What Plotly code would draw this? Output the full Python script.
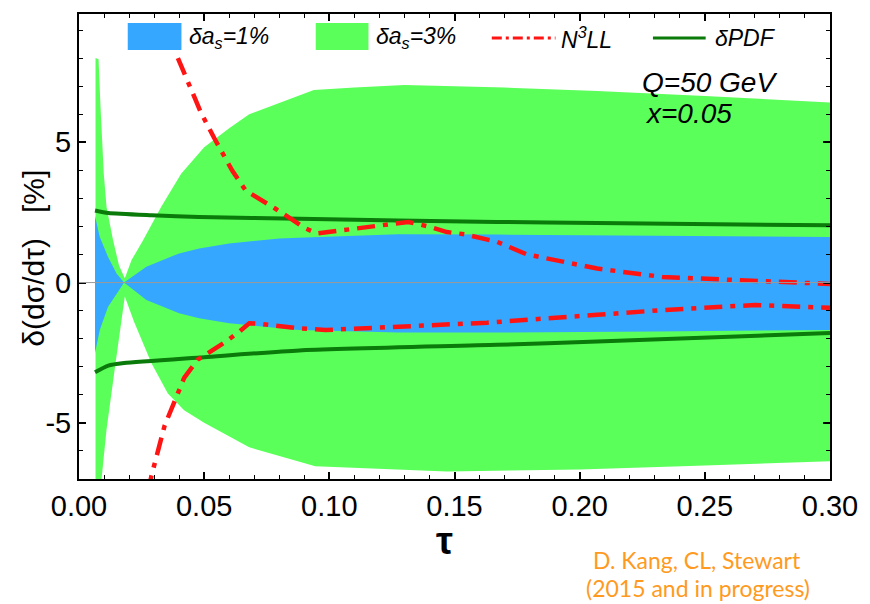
import plotly.graph_objects as go

# ---------------- data ----------------
# delta alpha_s = 3% band (green)
tau_g_up = [0.0066, 0.0078, 0.0086, 0.0099, 0.011, 0.0136, 0.016, 0.0183, 0.021, 0.0256, 0.0328,
            0.0408, 0.050, 0.060, 0.068, 0.080, 0.0938, 0.110, 0.130, 0.170, 0.207, 0.250, 0.300]
g_up = [8.0, 7.96, 6.24, 3.88, 2.69, 1.51, 0.6, 0.15, 0.8, 1.51, 2.69,
        3.88, 4.82, 5.5, 6.0, 6.4, 6.86, 6.95, 7.04, 6.95, 6.83, 6.65, 6.42]
tau_g_lo = [0.0066, 0.009, 0.011, 0.0146, 0.0183, 0.022, 0.0289, 0.0355, 0.042, 0.050,
            0.068, 0.0944, 0.147, 0.200, 0.250, 0.300]
g_lo = [-9.0, -7.0, -5.24, -2.87, -0.5, -1.4, -2.87, -3.95, -4.55, -5.0,
        -5.87, -6.55, -6.73, -6.66, -6.52, -6.37]

# delta alpha_s = 1% band (blue)
tau_b_up = [0.0064, 0.0083, 0.0116, 0.015, 0.018, 0.0269, 0.040, 0.048, 0.060, 0.080,
            0.0878, 0.1275, 0.167, 0.230, 0.300]
b_up = [2.37, 1.62, 0.91, 0.32, 0.0, 0.56, 1.04, 1.21, 1.39, 1.57,
        1.6, 1.72, 1.71, 1.67, 1.62]
tau_b_lo = [0.0064, 0.0083, 0.0116, 0.0156, 0.018, 0.0269, 0.040, 0.048, 0.060, 0.0878,
            0.1275, 0.167, 0.230, 0.300]
b_lo = [-2.51, -1.69, -0.86, -0.33, 0.0, -0.62, -1.09, -1.27, -1.45, -1.69,
        -1.78, -1.78, -1.74, -1.69]

# delta PDF (dark green lines)
tau_pdf_up = [0.0064, 0.0117, 0.029, 0.048, 0.088, 0.167, 0.207, 0.300]
pdf_up = [2.57, 2.48, 2.4, 2.34, 2.27, 2.16, 2.12, 2.04]
tau_pdf_lo = [0.0064, 0.0117, 0.018, 0.050, 0.088, 0.167, 0.207, 0.300]
pdf_lo = [-3.2, -2.96, -2.87, -2.66, -2.42, -2.22, -2.1, -1.8]

# N3LL (red dash-dot lines)
tau_r_up = [0.0395, 0.044, 0.0487, 0.054, 0.058, 0.0612, 0.0666, 0.072, 0.0785, 0.085,
            0.090, 0.095, 0.105, 0.117, 0.125, 0.1315, 0.1395, 0.147, 0.154, 0.1605,
            0.167, 0.179, 0.195, 0.207, 0.233, 0.273, 0.300]
r_up = [8.0, 7.05, 6.06, 5.15, 4.47, 3.99, 3.28, 3.0, 2.63, 2.25,
        1.95, 1.75, 1.86, 2.0, 2.12, 2.16, 2.0, 1.8, 1.72, 1.6,
        1.45, 1.0, 0.7, 0.5, 0.2, 0.05, -0.05]
tau_r_lo = [0.0275, 0.0289, 0.0342, 0.042, 0.0474, 0.0547, 0.0587, 0.064, 0.068, 0.072,
            0.0785, 0.0878, 0.0984, 0.109, 0.121, 0.134, 0.147, 0.163, 0.207, 0.233,
            0.270, 0.300]
r_lo = [-7.5, -6.9, -5.1, -3.4, -2.75, -2.34, -2.1, -1.75, -1.45, -1.47,
        -1.54, -1.63, -1.69, -1.65, -1.6, -1.57, -1.51, -1.43, -1.15, -0.98,
        -0.8, -0.9]

x_tickvals = [0.00, 0.05, 0.10, 0.15, 0.20, 0.25, 0.30]
x_ticktext = ["0.00", "0.05", "0.10", "0.15", "0.20", "0.25", "0.30"]
y_tickvals = [-5, 0, 5]
y_ticktext = ["-5", "0", "5"]

legend_labels = ["<i>δa<sub>s</sub>=1%</i>", "<i>δa<sub>s</sub>=3%</i>",
                 "<i>N<sup>3</sup>LL</i>", "<i>δPDF</i>"]

# ---------------- styling ----------------
BLUE = "#36A7FF"
GREEN = "#5AFF5A"
DKGREEN = "#0A7A0A"
RED = "#FF1414"
FONT = "Liberation Sans, Arial, sans-serif"

W, H = 870, 604
L, R, T, B = 79, 36, 13, 125
PW, PH = W - L - R, H - T - B


def px(xp):
    return (xp - L) / PW


def py(yp):
    return (H - B - yp) / PH


fig = go.Figure()

fig.add_trace(go.Scatter(
    x=tau_g_up + tau_g_lo[::-1], y=g_up + g_lo[::-1],
    fill="toself", fillcolor=GREEN, mode="none", hoverinfo="skip", showlegend=False))
fig.add_trace(go.Scatter(
    x=tau_b_up + tau_b_lo[::-1], y=b_up + b_lo[::-1],
    fill="toself", fillcolor=BLUE, mode="none", hoverinfo="skip", showlegend=False))

for xs, ys in [(tau_pdf_up, pdf_up), (tau_pdf_lo, pdf_lo)]:
    fig.add_trace(go.Scatter(x=xs, y=ys, mode="lines", showlegend=False,
                             line=dict(color=DKGREEN, width=4, shape="spline", smoothing=0.6)))
for xs, ys in [(tau_r_up, r_up), (tau_r_lo, r_lo)]:
    fig.add_trace(go.Scatter(x=xs, y=ys, mode="lines", showlegend=False,
                             line=dict(color=RED, width=4.5, dash="18px,8px,5px,8px")))

shapes = [
    # zero line
    dict(type="line", xref="paper", yref="y", x0=0, x1=1, y0=0, y1=0,
         line=dict(color="#9a9a9a", width=1), layer="above"),
    # custom legend keys
    dict(type="rect", xref="paper", yref="paper", x0=px(128), x1=px(182), y0=py(49), y1=py(22),
         fillcolor=BLUE, line=dict(width=0), layer="above"),
    dict(type="rect", xref="paper", yref="paper", x0=px(317), x1=px(370), y0=py(49), y1=py(22),
         fillcolor=GREEN, line=dict(width=0), layer="above"),
    dict(type="line", xref="paper", yref="paper", x0=px(494), x1=px(558), y0=py(37), y1=py(37),
         line=dict(color=RED, width=3, dash="10px,4px,3px,4px"), layer="above"),
    dict(type="line", xref="paper", yref="paper", x0=px(656), x1=px(709), y0=py(37), y1=py(37),
         line=dict(color=DKGREEN, width=3), layer="above"),
]

annotations = []
for lab, xp in zip(legend_labels, [188, 376, 562, 716]):
    annotations.append(dict(text=lab, xref="paper", yref="paper", x=px(xp), y=py(37),
                            xanchor="left", yanchor="middle", showarrow=False,
                            font=dict(family=FONT, size=23, color="black")))
annotations += [
    dict(text="<i>Q=50 GeV</i>", xref="paper", yref="paper", x=px(643), y=py(82),
         xanchor="left", yanchor="middle", showarrow=False,
         font=dict(family=FONT, size=28, color="black")),
    dict(text="<i>x=0.05</i>", xref="paper", yref="paper", x=px(646), y=py(113),
         xanchor="left", yanchor="middle", showarrow=False,
         font=dict(family=FONT, size=28, color="black")),
    dict(text="δ(dσ/dτ)   [%]", xref="paper", yref="paper", x=px(33), y=py(258),
         xanchor="center", yanchor="middle", textangle=-90, showarrow=False,
         font=dict(family=FONT, size=30, color="black")),
    dict(text="<b>τ</b>", xref="paper", yref="paper", x=px(446), y=py(541),
         xanchor="center", yanchor="middle", showarrow=False,
         font=dict(family=FONT, size=38, color="black")),
    dict(text="D. Kang, CL, Stewart", xref="paper", yref="paper", x=px(700), y=py(560),
         xanchor="center", yanchor="middle", showarrow=False,
         font=dict(family="Lato, sans-serif", size=23, color="#FF9A1E")),
    dict(text="(2015 and in progress)", xref="paper", yref="paper", x=px(701), y=py(588),
         xanchor="center", yanchor="middle", showarrow=False,
         font=dict(family="Lato, sans-serif", size=23, color="#FF9A1E")),
]

fig.update_layout(
    width=W, height=H,
    margin=dict(l=L, r=R, t=T, b=B, pad=0),
    paper_bgcolor="white", plot_bgcolor="white",
    showlegend=False,
    shapes=shapes, annotations=annotations,
    font=dict(family=FONT, color="black"),
    xaxis=dict(range=[0, 0.30], tickvals=x_tickvals, ticktext=x_ticktext,
               ticks="inside", ticklen=7, tickwidth=1.5, tickcolor="black",
               showline=True, linecolor="black", linewidth=2, mirror="allticks",
               showgrid=False, zeroline=False, layer="above traces",
               tickfont=dict(size=29, family=FONT),
               minor=dict(dtick=0.01, tick0=0, ticks="inside", ticklen=4, tickwidth=1.2,
                          tickcolor="black", showgrid=False)),
    yaxis=dict(range=[-7, 9.57], tickvals=y_tickvals, ticktext=y_ticktext,
               ticks="inside", ticklen=7, tickwidth=1.5, tickcolor="black",
               showline=True, linecolor="black", linewidth=2, mirror="allticks",
               showgrid=False, zeroline=False, layer="above traces",
               tickfont=dict(size=29, family=FONT),
               minor=dict(dtick=1, tick0=0, ticks="inside", ticklen=4, tickwidth=1.2,
                          tickcolor="black", showgrid=False)),
)

fig.write_html("out.html")
